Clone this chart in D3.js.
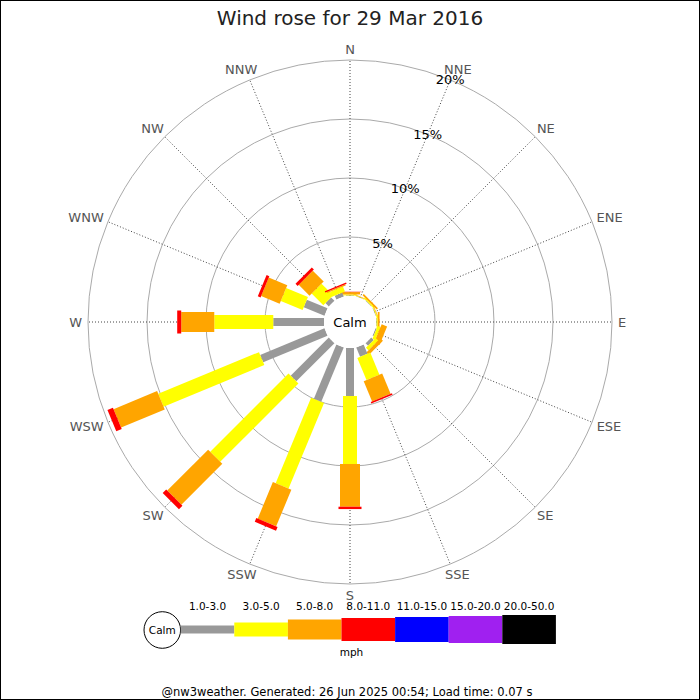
<!DOCTYPE html>
<html>
<head>
<meta charset="utf-8">
<script src="https://cdn.jsdelivr.net/npm/d3@7"></script>
<style>
  html, body { margin: 0; padding: 0; background: #fff; }
  svg { display: block; font-family: "DejaVu Sans", sans-serif; }
</style>
</head>
<body>
<svg id="chart" width="700" height="700"></svg>
<script>
// Compass points, clockwise from north
const directions = ["N", "NNE", "NE", "ENE", "E", "ESE", "SE", "SSE",
                    "S", "SSW", "SW", "WSW", "W", "WNW", "NW", "NNW"];

// Speed bands (mph) and their colours
const speedBands = ["1.0-3.0", "3.0-5.0", "5.0-8.0", "8.0-11.0", "11.0-15.0", "15.0-20.0", "20.0-50.0"];
const bandColors = ["#999999", "#ffff00", "#ffa500", "#ff0000", "#0000ff", "#a020f0", "#000000"];

// Percentage of observations per direction, one array per speed band
const band1to3   = [0.05, 0.03, 0.05, 0.05, 0.05, 0.10, 0.30, 0.85, 4.07, 4.98, 4.57, 5.90, 4.30, 1.90, 0.40, 0.35];
const band3to5   = [0.08, 0.05, 0.10, 0.08, 0.10, 0.25, 0.30, 2.03, 5.76, 7.85, 9.38, 9.24, 5.00, 2.00, 1.40, 0.45];
const band5to8   = [0.20, 0.05, 0.15, 0.05, 0.15, 0.50, 0.30, 1.86, 3.62, 3.36, 4.90, 4.00, 2.80, 1.70, 1.30, 0.10];
const band8to11  = [0.03, 0.00, 0.00, 0.00, 0.00, 0.00, 0.00, 0.13, 0.20, 0.34, 0.42, 0.50, 0.34, 0.25, 0.25, 0.12];
const band11to15 = new Array(16).fill(0);
const band15to20 = new Array(16).fill(0);
const band20to50 = new Array(16).fill(0);
const bandSeries = [band1to3, band3to5, band5to8, band8to11, band11to15, band15to20, band20to50];

// Ring ticks (percent)
const ringTicks = [5, 10, 15, 20];

const title = "Wind rose for 29 Mar 2016";
const footer = "@nw3weather. Generated: 26 Jun 2025 00:54; Load time: 0.07 s";

// ---- layout ----
const W = 700, H = 700;
const cx = 350, cy = 322;
const calmR = 26;
const outerR = 262;
const labelR = 268;
const bandWidths = [8, 14, 20, 23, 25, 27, 29];

const svg = d3.select("#chart");

svg.append("rect")
  .attr("x", 0.5).attr("y", 0.5)
  .attr("width", W - 1).attr("height", H - 1)
  .attr("fill", "#fff").attr("stroke", "#000").attr("stroke-width", 1);

svg.append("text")
  .attr("x", W / 2).attr("y", 25)
  .attr("text-anchor", "middle")
  .attr("font-size", 20)
  .attr("fill", "#222")
  .text(title);

const r = d3.scaleLinear().domain([0, 20]).range([calmR, outerR]);
const angle = d3.scaleBand().domain(directions).range([0, 360]).align(0).paddingInner(0).paddingOuter(0);
const deg = d => angle(d); // N = 0, clockwise
const rad = a => a * Math.PI / 180;
const polar = (a, rr) => [cx + rr * Math.sin(rad(a)), cy - rr * Math.cos(rad(a))];

const g = svg.append("g");

// rings
g.selectAll("circle.ring")
  .data(ringTicks)
  .join("circle")
  .attr("class", "ring")
  .attr("cx", cx).attr("cy", cy)
  .attr("r", d => r(d))
  .attr("fill", "none")
  .attr("stroke", "#aaa")
  .attr("stroke-width", 1);

// spokes
g.selectAll("line.spoke")
  .data(directions)
  .join("line")
  .attr("class", "spoke")
  .attr("x1", d => polar(deg(d), calmR)[0])
  .attr("y1", d => polar(deg(d), calmR)[1])
  .attr("x2", d => polar(deg(d), outerR)[0])
  .attr("y2", d => polar(deg(d), outerR)[1])
  .attr("stroke", "#444")
  .attr("stroke-width", 1)
  .attr("stroke-dasharray", "1,2");

// stacked bars
const stacks = directions.map((dir, i) => {
  let cum = 0;
  return bandSeries.map((s, b) => {
    const v0 = cum;
    cum += s[i];
    return { dir, band: b, v0, v1: cum };
  }).filter(d => d.v1 > d.v0);
});

const bars = g.selectAll("g.dir")
  .data(stacks)
  .join("g")
  .attr("class", "dir")
  .attr("transform", (d, i) => `translate(${cx},${cy}) rotate(${deg(directions[i])})`);

bars.selectAll("rect")
  .data(d => d)
  .join("rect")
  .attr("x", d => -bandWidths[d.band] / 2)
  .attr("width", d => bandWidths[d.band])
  .attr("y", d => -r(d.v1))
  .attr("height", d => r(d.v1) - r(d.v0))
  .attr("fill", d => bandColors[d.band]);

// calm circle
g.append("circle")
  .attr("cx", cx).attr("cy", cy).attr("r", calmR)
  .attr("fill", "#fff");
g.append("text")
  .attr("x", cx).attr("y", cy)
  .attr("text-anchor", "middle")
  .attr("dominant-baseline", "central")
  .attr("font-size", 13)
  .attr("fill", "#000")
  .text("Calm");

// compass labels, pushed outward by half their box so they sit clear of the ring
g.selectAll("text.dir")
  .data(directions)
  .join("text")
  .attr("class", "dir")
  .attr("text-anchor", "middle")
  .attr("dominant-baseline", "central")
  .attr("font-size", 13)
  .attr("fill", "#555")
  .text(d => d)
  .each(function (d) {
    const a = deg(d);
    const w = this.getComputedTextLength();
    const [px, py] = polar(a, labelR);
    d3.select(this)
      .attr("x", px + Math.sin(rad(a)) * w / 2)
      .attr("y", py - Math.cos(rad(a)) * 5);
  });

// ring labels along NNE
g.selectAll("text.tick")
  .data(ringTicks)
  .join("text")
  .attr("class", "tick")
  .attr("x", d => polar(deg("NNE"), r(d))[0])
  .attr("y", d => polar(deg("NNE"), r(d))[1])
  .attr("text-anchor", "middle")
  .attr("dominant-baseline", "central")
  .attr("font-size", 13)
  .attr("fill", "#000")
  .text(d => d + "%");

// legend
const legY = 629.5;
const segW = 53.6;
const legX0 = 180.7;
const leg = svg.append("g");
leg.append("circle")
  .attr("cx", 162.3).attr("cy", 630).attr("r", 18.3)
  .attr("fill", "#fff").attr("stroke", "#000").attr("stroke-width", 1);
leg.append("text")
  .attr("x", 162.3).attr("y", 630)
  .attr("text-anchor", "middle")
  .attr("dominant-baseline", "central")
  .attr("font-size", 10.5)
  .text("Calm");

const legScale = d3.scaleBand().domain(speedBands).range([legX0, legX0 + segW * speedBands.length]);
leg.selectAll("rect.key")
  .data(speedBands)
  .join("rect")
  .attr("class", "key")
  .attr("x", d => legScale(d))
  .attr("width", legScale.bandwidth())
  .attr("y", (d, i) => legY - bandWidths[i] / 2)
  .attr("height", (d, i) => bandWidths[i])
  .attr("fill", (d, i) => bandColors[i]);
leg.selectAll("text.key")
  .data(speedBands)
  .join("text")
  .attr("class", "key")
  .attr("x", d => legScale(d) + legScale.bandwidth() / 2)
  .attr("y", 610)
  .attr("text-anchor", "middle")
  .attr("font-size", 10.5)
  .text(d => d);
leg.append("text")
  .attr("x", 351.5).attr("y", 656)
  .attr("text-anchor", "middle")
  .attr("font-size", 10.5)
  .text("mph");

svg.append("text")
  .attr("x", 347).attr("y", 696)
  .attr("text-anchor", "middle")
  .attr("font-size", 11.5)
  .attr("fill", "#000")
  .text(footer);
</script>
</body>
</html>
